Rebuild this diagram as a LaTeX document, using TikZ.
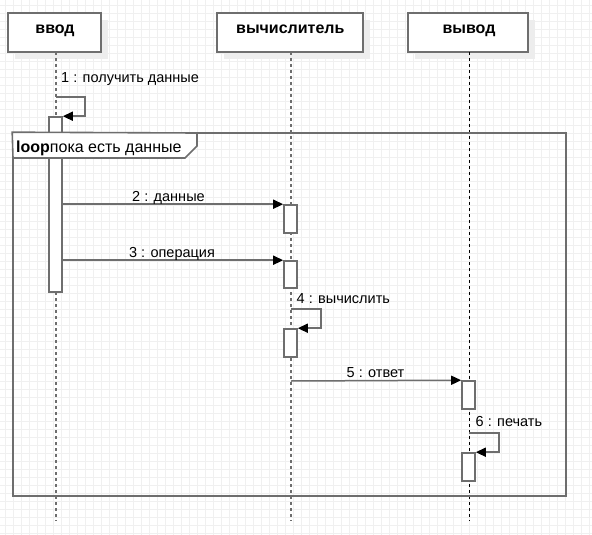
\documentclass[tikz,border=0pt]{standalone}
\usepackage{fontspec}
\setmainfont{Liberation Sans}
\usetikzlibrary{arrows.meta}
\definecolor{ln}{HTML}{6E6E6E}
\definecolor{gridc}{HTML}{F0F0F0}
\definecolor{shad}{HTML}{EDEDED}
\tikzset{
  hdr/.style={draw=ln, line width=1.6pt, fill=white, minimum height=39pt, inner sep=0pt},
  hdrtext/.style={inner sep=0pt, anchor=base, font=\fontsize{16}{18}\selectfont\bfseries},
  lifeg/.style={draw=ln, line width=1.6pt, dash pattern=on 3pt off 3pt},
  lifek/.style={draw=black, line width=1pt, dash pattern=on 3pt off 3pt},
  act/.style={draw=ln, line width=1.6pt, fill=white, minimum width=13pt, inner sep=0pt},
  msg/.style={draw=ln, line width=1.5pt, -{Triangle[length=10pt,width=9pt,color=black]}},
  lbl/.style={inner sep=0pt, font=\fontsize{14.5}{16}\selectfont},
  looplbl/.style={inner sep=0pt, font=\fontsize{16}{18}\selectfont},
  frm/.style={draw=ln, line width=1.6pt}
}
\begin{document}
\begin{tikzpicture}[x=1pt,y=-1pt]
\useasboundingbox (0,0) rectangle (592,535);
\fill[white] (0,0) rectangle (592,535);
% grid
\foreach \g in {5,13,...,589} \draw[gridc, line width=0.8pt] (\g,0) -- (\g,535);
\foreach \g in {5,13,...,533} \draw[gridc, line width=0.8pt] (0,\g) -- (592,\g);
% header shadows
\fill[shad] (15,20) rectangle (108,59);
\fill[shad] (224,20) rectangle (370,59);
\fill[shad] (415,20) rectangle (535,59);
% headers
\node[hdr, minimum width=93pt] (in) at (54.5,32.5) {};
\node[hdr, minimum width=146pt] (calc) at (290,32.5) {};
\node[hdr, minimum width=120pt] (out) at (468,32.5) {};
\node[hdrtext] (tin) at (55,33.5) {ввод};
\node[hdrtext] (tcalc) at (290.3,33.5) {вычислитель};
\node[hdrtext] (tout) at (469,33.5) {вывод};
% lifelines
\coordinate (l1t) at (56,52); \coordinate (l1b) at (56,521);
\coordinate (l2t) at (291,52); \coordinate (l2b) at (291,521);
\coordinate (l3t) at (469,52); \coordinate (l3b) at (469,521);
\draw[lifeg] (l1t) -- (l1b);
\draw[lifeg] (l2t) -- (l2b);
\draw[lifek] (l3t) -- (l3b);
% activations
\node[act, minimum height=175pt] (a1) at (55.5,204.5) {};
\node[act, minimum height=28pt] (a2) at (290.5,219) {};
\node[act, minimum height=27pt] (a3) at (290.5,274.5) {};
\node[act, minimum height=28pt] (a4) at (290.5,343) {};
\node[act, minimum height=28pt] (a5) at (468.5,395) {};
\node[act, minimum height=28pt] (a6) at (468.5,467) {};
% loop frame
\node[frm, minimum width=553pt, minimum height=363pt, inner sep=0pt] (loop) at (289.5,314.5) {};
\draw[frm, fill=white] (loop.north west) -- (197,133) -- (197,146) -- (185,158) -- (13,158) -- cycle;
\node[looplbl, anchor=base west] (lt) at (16,152) {\textbf{loop}пока есть данные};
% messages
\coordinate (s1) at (56,97);
\draw[msg] (s1) -- ++(29,0) |- (a1.north east);
\node[lbl, anchor=base west] (t1) at (61,83) {1 : получить данные};
\draw[msg] (a1.east |- a2.north) -- (a2.north west);
\node[lbl, anchor=base] (t2) at (168.5,201) {2 : данные};
\draw[msg] (a1.east |- a3.north) -- (a3.north west);
\node[lbl, anchor=base] (t3) at (172,257) {3 : операция};
\coordinate (s4) at (291,309);
\draw[msg] (s4) -- ++(30,0) |- (a4.north east);
\node[lbl, anchor=base west] (t4) at (296.5,303) {4 : вычислить};
\coordinate (s5) at (291,381);
\draw[msg] (s5) -- (a5.north west);
\node[lbl, anchor=base] (t5) at (375.5,377) {5 : ответ};
\coordinate (s6) at (469,433);
\draw[msg] (s6) -- ++(30,0) |- (a6.north east);
\node[lbl, anchor=base west] (t6) at (475.5,426) {6 : печать};
\end{tikzpicture}
\end{document}
